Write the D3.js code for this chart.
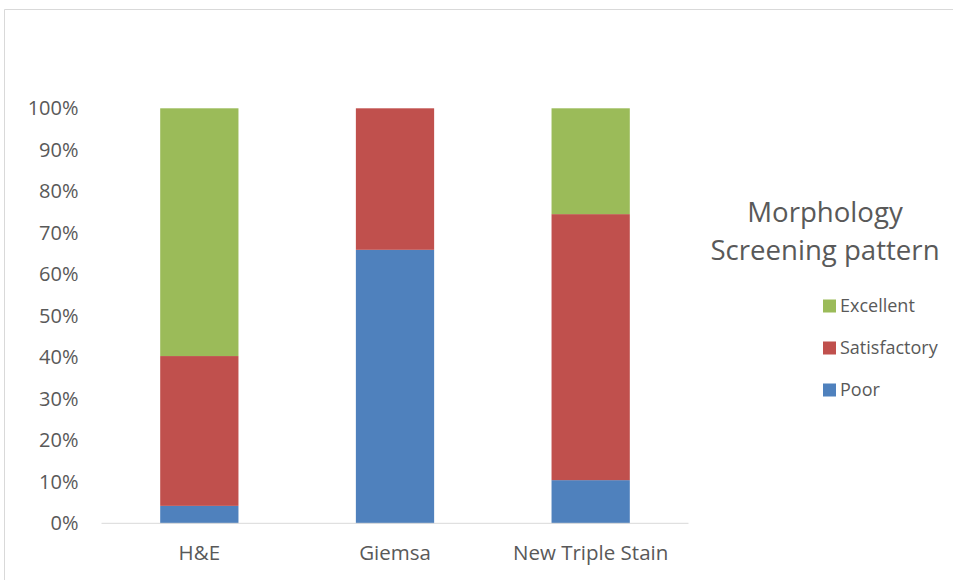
<!DOCTYPE html>
<html>
<head>
<meta charset="utf-8">
<script src="https://cdn.jsdelivr.net/npm/d3@7"></script>
<style>
    body { margin: 0; background: #fff; }
    text { font-family: "Open Sans", "Liberation Sans", sans-serif; fill: #595959; }
</style>
</head>
<body>
<svg id="chart" width="953" height="580"></svg>
<script>
/**
 * Data.
 */
const categories = ['H&E', 'Giemsa', 'New Triple Stain'];
const seriesNames = ['Poor', 'Satisfactory', 'Excellent'];
const poor = [4.2, 65.9, 10.4];
const satisfactory = [36.1, 34.1, 64.1];
const excellent = [59.7, 0, 25.5];
const tickValues = [0, 10, 20, 30, 40, 50, 60, 70, 80, 90, 100];
const title = ['Morphology', 'Screening pattern'];

/**
 * Visual configs.
 */
const colors = { Poor: '#4F81BD', Satisfactory: '#C0504D', Excellent: '#9BBB59' };
const plot = { left: 101.5, right: 688.5, top: 108.3, bottom: 523.3 };

const svg = d3.select('#chart');

// Outer frame (only top and left edges visible)
svg.append('path')
    .attr('d', 'M4.5,580 V9.5 H953')
    .attr('fill', 'none')
    .attr('stroke', '#d9d9d9')
    .attr('stroke-width', 1);

const xScale = d3.scaleBand()
    .domain(categories)
    .range([plot.left, plot.right])
    .paddingInner(0.6)
    .paddingOuter(0.3);

const yScale = d3.scaleLinear()
    .domain([0, 100])
    .range([plot.bottom, plot.top]);

const rows = categories.map((c, i) => ({
    category: c, Poor: poor[i], Satisfactory: satisfactory[i], Excellent: excellent[i]
}));
const stacked = d3.stack().keys(seriesNames)(rows);

// Bars
svg.append('g').attr('class', 'bars')
    .selectAll('g').data(stacked).join('g')
    .attr('fill', d => colors[d.key])
    .selectAll('rect').data(d => d).join('rect')
    .attr('x', d => xScale(d.data.category))
    .attr('width', xScale.bandwidth())
    .attr('y', d => yScale(d[1]))
    .attr('height', d => yScale(d[0]) - yScale(d[1]));

// Baseline
svg.append('line')
    .attr('x1', plot.left).attr('x2', plot.right)
    .attr('y1', plot.bottom).attr('y2', plot.bottom)
    .attr('stroke', '#d9d9d9').attr('stroke-width', 1);

// Y axis labels
svg.append('g').attr('class', 'y-axis')
    .selectAll('text').data(tickValues).join('text')
    .attr('x', 78.5)
    .attr('y', d => yScale(d))
    .attr('dy', '0.35em')
    .attr('text-anchor', 'end')
    .style('font-size', '20px')
    .text(d => d + '%');

// X axis labels
svg.append('g').attr('class', 'x-axis')
    .selectAll('text').data(categories).join('text')
    .attr('x', d => xScale(d) + xScale.bandwidth() / 2)
    .attr('y', 553)
    .attr('dy', '0.35em')
    .attr('text-anchor', 'middle')
    .style('font-size', '20.5px')
    .text(d => d);

// Legend title
svg.append('g').attr('class', 'legend-title')
    .selectAll('text').data(title).join('text')
    .attr('x', 825)
    .attr('y', (d, i) => 212 + i * 38)
    .attr('dy', '0.35em')
    .attr('text-anchor', 'middle')
    .style('font-size', '27.6px')
    .text(d => d);

// Legend items
const legendItems = seriesNames.slice().reverse();
const legend = svg.append('g').attr('class', 'legend')
    .selectAll('g').data(legendItems).join('g')
    .attr('transform', (d, i) => 'translate(823,' + (306 + i * 42) + ')');
legend.append('rect')
    .attr('x', 0).attr('y', -6.5)
    .attr('width', 13).attr('height', 13)
    .attr('fill', d => colors[d]);
legend.append('text')
    .attr('x', 17)
    .attr('dy', '0.35em')
    .style('font-size', '18px')
    .text(d => d);
</script>
</body>
</html>
